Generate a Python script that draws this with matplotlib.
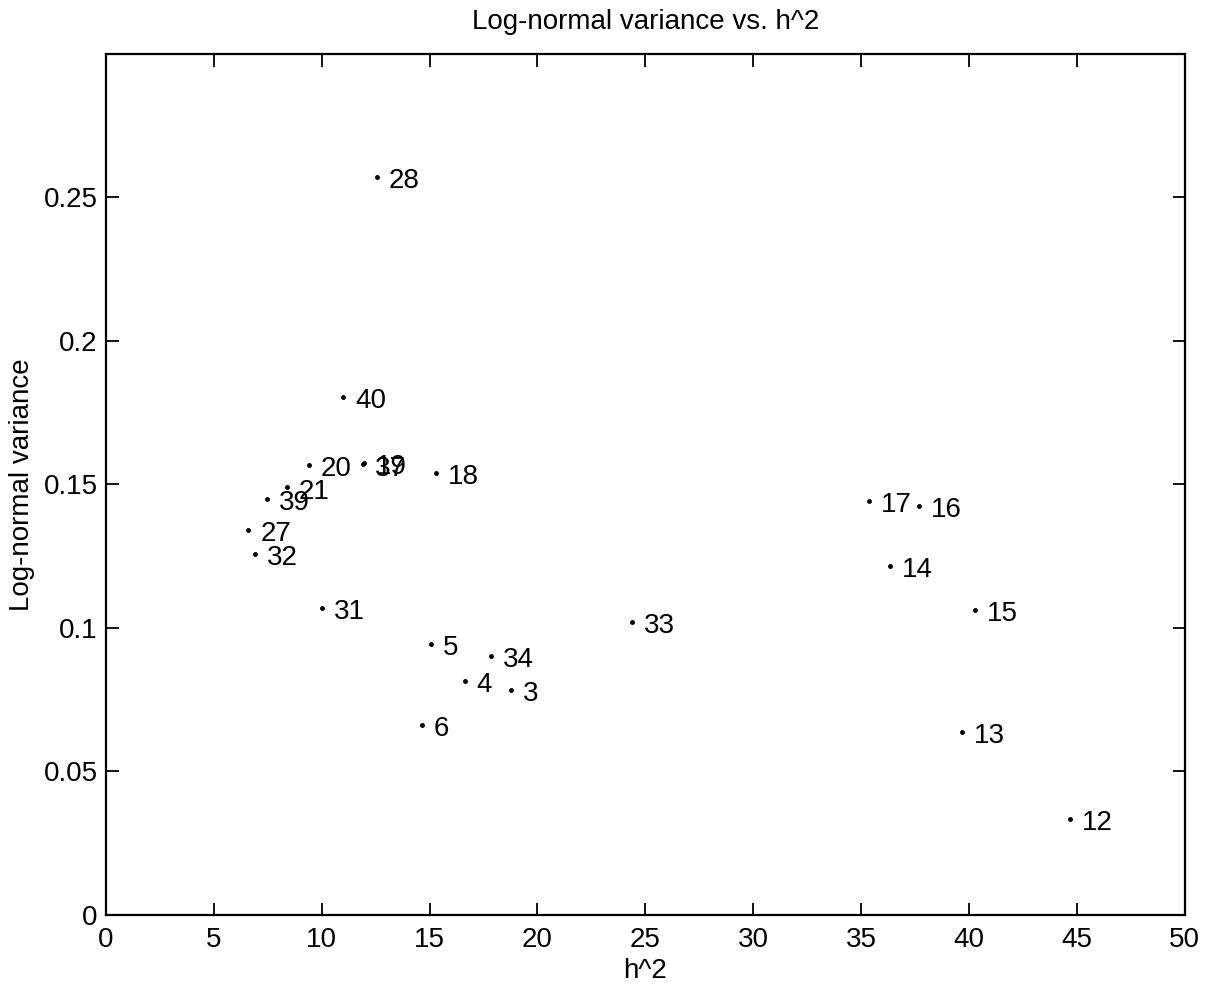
import matplotlib
matplotlib.use("Agg")
import matplotlib.pyplot as plt

plt.rcParams['font.family'] = ['Liberation Sans', 'DejaVu Sans']

ids = ['28', '40', '20', '19', '37', '18', '21', '39', '27', '32', '31',
       '5', '34', '4', '3', '6', '33', '17', '16', '14', '15', '13', '12']
h2 = [12.57, 10.99, 9.42, 11.95, 11.93, 15.29, 8.40, 7.45, 6.60, 6.91, 10.02,
      15.06, 17.84, 16.62, 18.79, 14.64, 24.40, 35.36, 37.68, 36.36, 40.27, 39.69, 44.71]
lnvar = [0.2573, 0.1804, 0.1569, 0.1575, 0.1570, 0.1540, 0.1490, 0.1451, 0.1343, 0.1259, 0.1069,
         0.0944, 0.0903, 0.0815, 0.0783, 0.0662, 0.1020, 0.1443, 0.1425, 0.1216, 0.1062, 0.0638, 0.0334]

xticks = [0, 5, 10, 15, 20, 25, 30, 35, 40, 45, 50]
yticks = [0, 0.05, 0.1, 0.15, 0.2, 0.25]
yticklabels = ['0', '0.05', '0.1', '0.15', '0.2', '0.25']

fig = plt.figure(figsize=(12.1, 9.94), dpi=100)
ax = fig.add_axes([0.0876, 0.0795, 0.979 - 0.0876, 0.9457 - 0.0795])

ax.plot(h2, lnvar, linestyle='none', marker='o', markersize=2.5, color='black')
for lab, x, y in zip(ids, h2, lnvar):
    ax.annotate(lab, (x, y), xytext=(8.5, -3), textcoords='offset points',
                ha='left', va='center', fontsize=20, color='black')

ax.set_xlim(0, 50)
ax.set_ylim(0, 0.3)
ax.set_xticks(xticks)
ax.set_xticklabels([str(t) for t in xticks])
ax.set_yticks(yticks)
ax.set_yticklabels(yticklabels)
ax.tick_params(direction='in', length=9, width=1.3, labelsize=20,
               top=True, right=True)
ax.tick_params(axis='x', pad=9)
ax.tick_params(axis='y', pad=6)
for s in ax.spines.values():
    s.set_linewidth(1.6)

ax.set_xlabel('h^2', fontsize=20, labelpad=3)
ax.set_ylabel('Log-normal variance', fontsize=20, labelpad=6)
ax.set_title('Log-normal variance vs. h^2', fontsize=20, pad=18)

fig.savefig('out.png', dpi=100)
